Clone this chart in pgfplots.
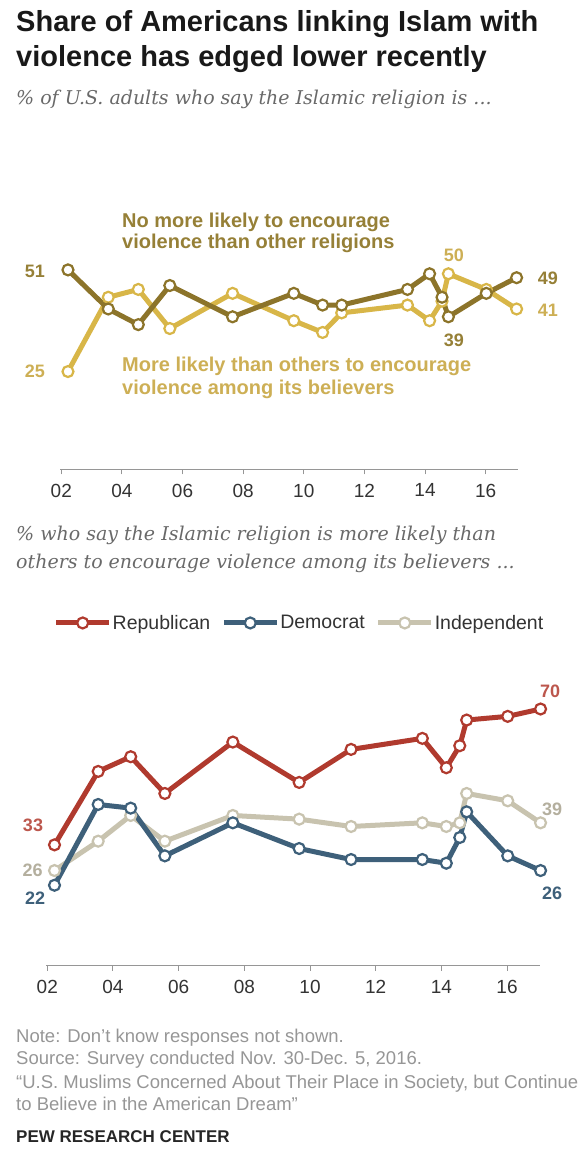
\documentclass[border=0pt]{standalone}
\usepackage{pgfplots}
\pgfplotsset{compat=1.18}
\usepackage{fontspec}
\setmainfont{Liberation Sans}
\newfontfamily\subfont{DejaVu Serif}
\definecolor{olivedark}{RGB}{140,116,42}
\definecolor{goldlight}{RGB}{216,182,72}
\definecolor{oliveText}{RGB}{150,128,55}
\definecolor{goldText}{RGB}{205,175,85}
\definecolor{repred}{RGB}{176,58,46}
\definecolor{demblue}{RGB}{62,96,122}
\definecolor{indbeige}{RGB}{200,195,175}
\definecolor{subgrey}{RGB}{105,105,105}
\definecolor{notegrey}{RGB}{150,150,150}
\definecolor{axisgrey}{RGB}{150,150,150}
\pgfplotsset{
  ser/.style={line width=5pt, mark=*, mark size=5.5pt, mark options={fill=white, line width=2.2pt, solid}},
  base/.style={scale only axis, clip=false,
    axis x line=bottom, axis y line=none,
    axis line style={draw=axisgrey, line width=1pt, -},
    xtick={2002,2004,...,2016},
    xticklabels={02,04,06,08,10,12,14,16},
    tick align=outside, major tick length=5pt,
    tick style={draw=axisgrey, line width=1pt},
    xticklabel style={font=\fontsize{19}{21}\selectfont, text=black!80, yshift=-6pt},
    ymin=0, ymax=80},
}
\begin{document}
\begin{tikzpicture}
\path[use as bounding box] (0pt,0pt) rectangle (579pt,1164pt);
% titles
\node[anchor=base west, inner sep=0, font=\fontsize{29}{34}\selectfont\bfseries, text=black!90] at (16pt,1132.3pt) {Share of Americans linking Islam with};
\node[anchor=base west, inner sep=0, font=\fontsize{29}{34}\selectfont\bfseries, text=black!90] at (16pt,1097.3pt) {violence has edged lower recently};
\node[anchor=base west, inner sep=0, font=\subfont\itshape\fontsize{19}{22}\selectfont, text=subgrey] at (16pt,1059pt) {\% of U.S. adults who say the Islamic religion is ...};

\begin{axis}[base, at={(60.4pt,694.7pt)}, anchor=south west,
  width=457.1pt, height=312.8pt, xmin=2001.97, xmax=2017.05]
\addplot[ser, goldlight] coordinates {(2002.22,25) (2003.55,44) (2004.54,46) (2005.58,36) (2007.65,45) (2009.67,38) (2010.62,35) (2011.25,40) (2013.42,42) (2014.15,38) (2014.56,43) (2014.77,50) (2016.02,46) (2017.02,41)};
\addplot[ser, olivedark] coordinates {(2002.22,51) (2003.55,41) (2004.54,37) (2005.58,47) (2007.65,39) (2009.67,45) (2010.62,42) (2011.25,42) (2013.42,46) (2014.15,50) (2014.56,44) (2014.77,39) (2016.02,45) (2017.02,49)};
\begin{scope}[every node/.style={font=\fontsize{18}{20}\selectfont\bfseries, inner sep=0}]
\node[text=oliveText] at (axis cs:2002.22,51) [xshift=-33pt, yshift=-1.7pt] {51};
\node[text=goldText] at (axis cs:2002.22,25) [xshift=-33pt] {25};
\node[text=goldText] at (axis cs:2014.77,50) [xshift=5.6pt, yshift=18.3pt] {50};
\node[text=oliveText] at (axis cs:2014.77,39) [xshift=5.6pt, yshift=-23.4pt] {39};
\node[text=oliveText] at (axis cs:2017.02,49) [xshift=31.4pt, yshift=-1pt] {49};
\node[text=goldText] at (axis cs:2017.02,41) [xshift=31.4pt, yshift=-1.4pt] {41};
\end{scope}
\end{axis}
\begin{scope}[every node/.style={anchor=base west, inner sep=0, font=\fontsize{20}{24}\selectfont\bfseries}]
\node[text=oliveText] at (122pt,936.5pt) {No more likely to encourage};
\node[text=oliveText] at (122pt,915pt) {violence than other religions};
\node[text=goldText] at (122pt,792.5pt) {More likely than others to encourage};
\node[text=goldText] at (122pt,769pt) {violence among its believers};
\end{scope}

\node[anchor=base west, inner sep=0, font=\subfont\itshape\fontsize{19}{22}\selectfont, text=subgrey] at (16pt,623.5pt) {\% who say the Islamic religion is more likely than};
\node[anchor=base west, inner sep=0, font=\subfont\itshape\fontsize{19}{22}\selectfont, text=subgrey] at (16pt,595.2pt) {others to encourage violence among its believers ...};

\begin{axis}[base, at={(46.3pt,198pt)}, anchor=south west,
  width=493.6pt, height=293.7pt, xmin=2001.97, xmax=2017.0,
  legend columns=3,
  legend style={at={(0.0146,1.168)}, anchor=west, draw=none, fill=none, inner sep=0pt,
    font=\fontsize{19.5}{22}\selectfont, text=black!80,
    /tikz/every even column/.append style={column sep=10pt},
    nodes={inner sep=1pt}},
  legend image code/.code={\draw[mark repeat=2,mark phase=2,#1] plot coordinates {(0pt,0pt) (26.5pt,0pt) (53pt,0pt)};}]
\addlegendimage{ser, repred}
\addlegendentry{Republican}
\addlegendimage{ser, demblue}
\addlegendentry{Democrat}
\addlegendimage{ser, indbeige}
\addlegendentry{Independent}
\addplot[ser, indbeige, forget plot] coordinates {(2002.22,26) (2003.55,34) (2004.54,41) (2005.58,34) (2007.65,41) (2009.67,40) (2011.25,38) (2013.42,39) (2014.15,38) (2014.56,39) (2014.77,47) (2016.02,45) (2017.02,39)};
\addplot[ser, demblue, forget plot] coordinates {(2002.22,22) (2003.55,44) (2004.54,43) (2005.58,30) (2007.65,39) (2009.67,32) (2011.25,29) (2013.42,29) (2014.15,28) (2014.56,35) (2014.77,42) (2016.02,30) (2017.02,26)};
\addplot[ser, repred, forget plot] coordinates {(2002.22,33) (2003.55,53) (2004.54,57) (2005.58,47) (2007.65,61) (2009.67,50) (2011.25,59) (2013.42,62) (2014.15,54) (2014.56,60) (2014.77,67) (2016.02,68) (2017.02,70)};
\begin{scope}[every node/.style={font=\fontsize{18}{20}\selectfont\bfseries, inner sep=0}]
\node[text=repred!85] at (axis cs:2017.02,70) [xshift=9.5pt, yshift=17.3pt] {70};
\node[text=repred!85] at (axis cs:2002.22,33) [xshift=-21.5pt, yshift=19.8pt] {33};
\node[text=indbeige!90!black] at (axis cs:2002.22,26) [xshift=-22pt] {26};
\node[text=demblue] at (axis cs:2002.22,22) [xshift=-19.5pt, yshift=-13pt] {22};
\node[text=indbeige!90!black] at (axis cs:2017.02,39) [xshift=11.5pt, yshift=13.4pt] {39};
\node[text=demblue] at (axis cs:2017.02,26) [xshift=11.5pt, yshift=-22.4pt] {26};
\end{scope}
\end{axis}

\begin{scope}[every node/.style={anchor=base west, inner sep=0, font=\fontsize{18.5}{22}\selectfont, text=notegrey}]
\node at (16pt,121.2pt) {Note: Don't know responses not shown.};
\node at (16pt,99.2pt) {Source: Survey conducted Nov. 30-Dec. 5, 2016.};
\node at (16pt,75.8pt) {``U.S. Muslims Concerned About Their Place in Society, but Continue};
\node at (16pt,53.5pt) {to Believe in the American Dream''};
\end{scope}
\node[anchor=base west, inner sep=0, font=\fontsize{17}{20}\selectfont\bfseries, text=black!85] at (16pt,21.5pt) {PEW RESEARCH CENTER};
\end{tikzpicture}
\end{document}
